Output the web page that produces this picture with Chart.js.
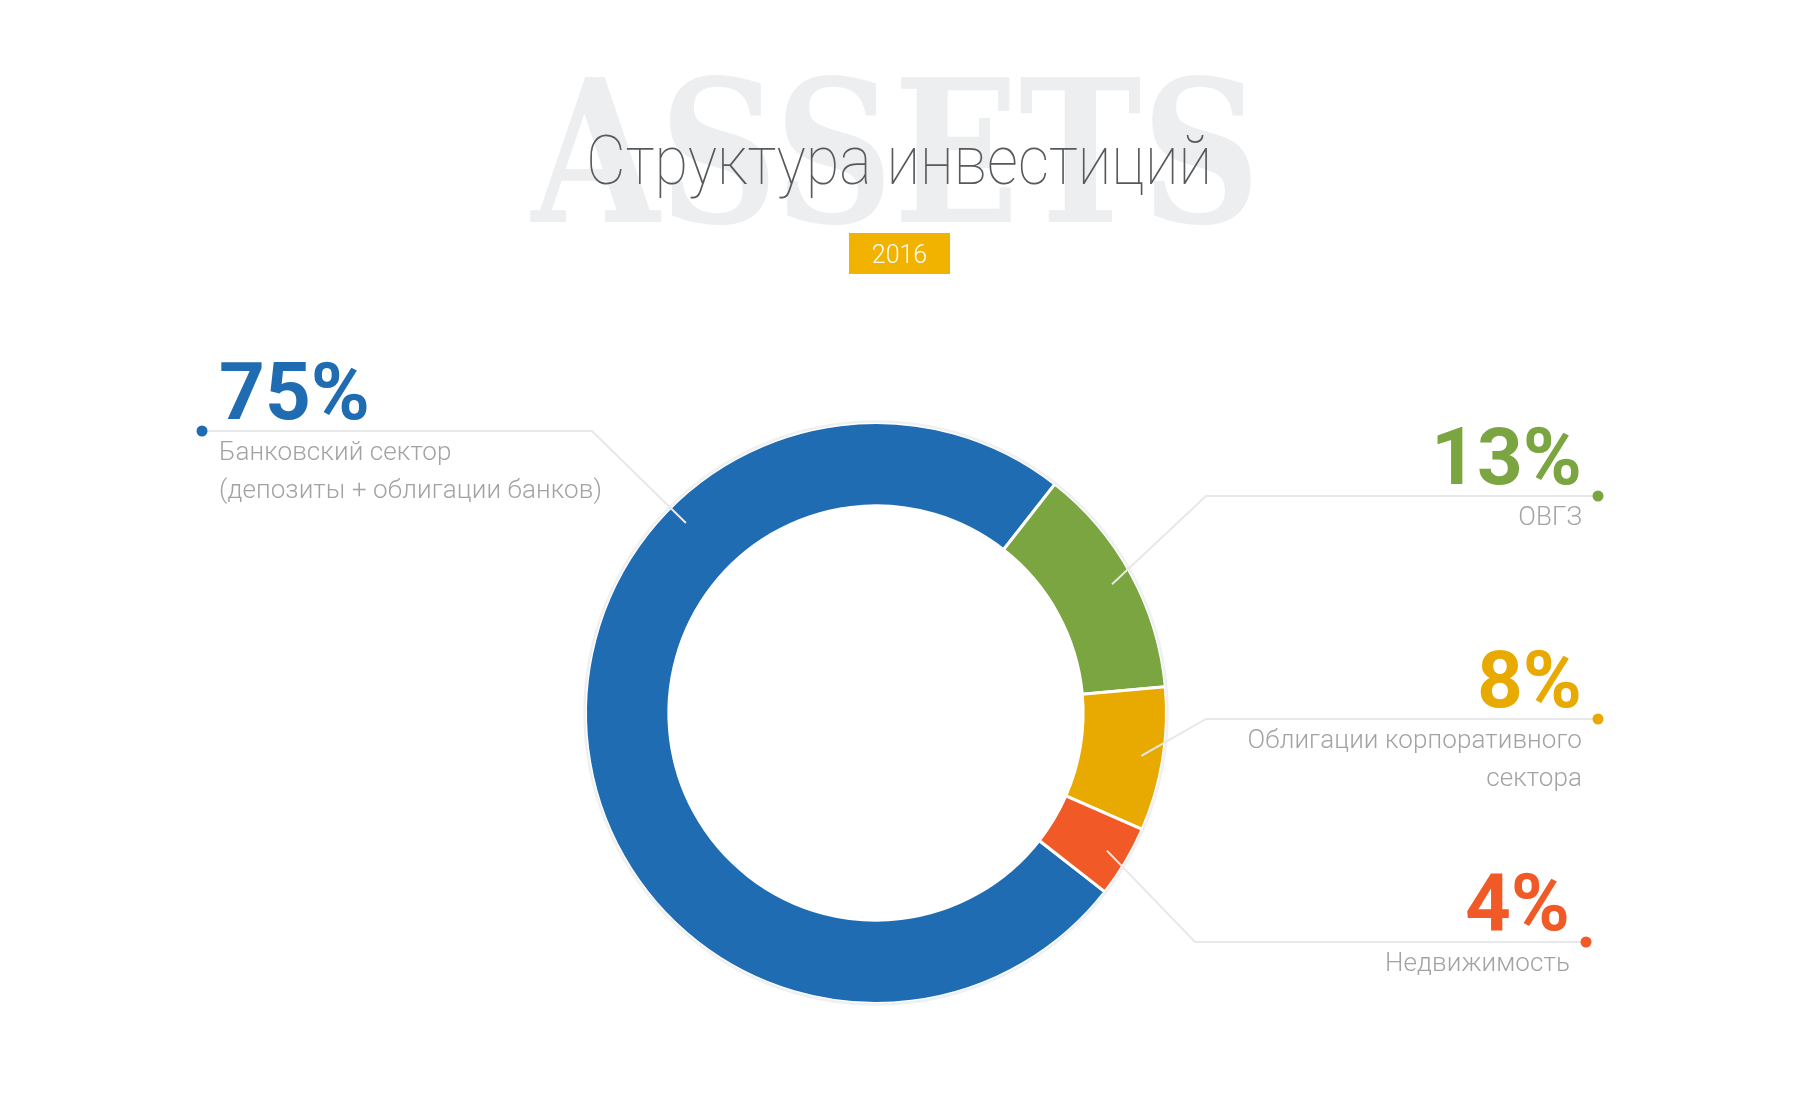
<!DOCTYPE html>
<html>
<head>
<meta charset="utf-8">
<script src="https://cdn.jsdelivr.net/npm/chart.js@4"></script>
<style>
  html, body { margin: 0; padding: 0; background: #fff; overflow: hidden; }
  #wrap { width: 1801px; height: 1113px; position: relative; }
</style>
</head>
<body>
<div id="wrap"><canvas id="chart"></canvas></div>
<script>
// Data
const categories = [
  ['Банковский сектор', '(депозиты + облигации банков)'],
  ['ОВГЗ'],
  ['Облигации корпоративного', 'сектора'],
  ['Недвижимость'],
];
const shares = [75, 13, 8, 4];
const colors = ['#1f6cb2', '#7ba540', '#e8a900', '#f15a27'];
const titleText = 'Структура инвестиций';
const watermarkText = 'ASSETS';
const yearText = '2016';

// Callout layout: dot, elbow, side (null angle = slice middle)
const CALLOUTS = [
  { dot: [202, 431], elbow: [592, 431], align: 'left', angle: -135 },
  { dot: [1598, 496], elbow: [1206, 496], align: 'right', angle: null },
  { dot: [1598, 719], elbow: [1206, 719], align: 'right', angle: null },
  { dot: [1586, 942], elbow: [1195, 942], align: 'right', angle: null },
];

const LINE_COLOR = '#e7e8e9';
const LABEL_COLOR = '#a3a3a3';

// ─── helpers ─────────────────────────────────────────────────────────────────
function drawFitted(ctx, text, cx, baseline, width) {
  ctx.save();
  ctx.textAlign = 'center';
  const w = ctx.measureText(text).width;
  ctx.translate(cx, baseline);
  ctx.scale(width / w, 1);
  ctx.fillText(text, 0, 0);
  ctx.restore();
}

// ─── header: watermark, title, year badge ────────────────────────────────────
const headerPlugin = {
  id: 'header',
  beforeDraw(chart) {
    const ctx = chart.ctx;
    ctx.save();
    ctx.textBaseline = 'alphabetic';

    ctx.fillStyle = '#eceef0';
    ctx.font = 'bold 198px "DejaVu Serif"';
    drawFitted(ctx, watermarkText, 896, 222, 729);

    ctx.fillStyle = '#58595b';
    ctx.font = '100 68px Roboto';
    drawFitted(ctx, titleText, 899, 184, 626);

    ctx.fillStyle = '#f2b200';
    ctx.fillRect(849, 233, 101, 41);
    ctx.fillStyle = '#ffffff';
    ctx.font = '300 25px Roboto';
    ctx.textAlign = 'center';
    ctx.fillText(yearText, 899.5, 263);
    ctx.restore();
  },
};

// ─── callouts: outer ring, leader lines, percentages, labels ─────────────────
const calloutPlugin = {
  id: 'callouts',
  afterDatasetsDraw(chart) {
    const ctx = chart.ctx;
    const arcs = chart.getDatasetMeta(0).data;
    const first = arcs[0];

    ctx.save();
    ctx.strokeStyle = '#eff0f2';
    ctx.lineWidth = 2.5;
    ctx.beginPath();
    ctx.arc(first.x, first.y, first.outerRadius + 1, 0, Math.PI * 2);
    ctx.stroke();

    arcs.forEach((arc, i) => {
      const c = CALLOUTS[i];
      const a = c.angle === null ? (arc.startAngle + arc.endAngle) / 2 : c.angle * Math.PI / 180;
      const r = arc.innerRadius + 0.74 * (arc.outerRadius - arc.innerRadius);
      const ax = arc.x + r * Math.cos(a);
      const ay = arc.y + r * Math.sin(a);

      ctx.strokeStyle = LINE_COLOR;
      ctx.lineWidth = 2;
      ctx.beginPath();
      ctx.moveTo(ax, ay);
      ctx.lineTo(c.elbow[0], c.elbow[1]);
      ctx.lineTo(c.dot[0], c.dot[1]);
      ctx.stroke();

      ctx.fillStyle = colors[i];
      ctx.beginPath();
      ctx.arc(c.dot[0], c.dot[1], 5.5, 0, Math.PI * 2);
      ctx.fill();

      const tx = c.align === 'left' ? c.dot[0] + 17 : c.dot[0] - 16;
      ctx.textAlign = c.align;
      ctx.textBaseline = 'alphabetic';
      ctx.font = 'bold 80px Roboto';
      ctx.fillText(shares[i] + '%', tx, c.dot[1] - 12);

      ctx.fillStyle = LABEL_COLOR;
      ctx.font = '300 26px Roboto';
      ctx.letterSpacing = '0.1px';
      categories[i].forEach((line, j) => {
        ctx.fillText(line, tx, c.dot[1] + 29 + j * 38);
      });
      ctx.letterSpacing = '0px';
    });
    ctx.restore();
  },
};

// ─── chart ───────────────────────────────────────────────────────────────────
new Chart(document.getElementById('chart'), {
  type: 'doughnut',
  data: {
    labels: categories.map(l => l.join(' ')),
    datasets: [{
      data: shares,
      backgroundColor: colors,
      borderColor: '#ffffff',
      borderWidth: 3,
    }],
  },
  options: {
    responsive: true,
    maintainAspectRatio: false,
    animation: false,
    rotation: 128,
    cutout: '71.3%',
    layout: { padding: { left: 584, right: 633, top: 421, bottom: 108 } },
    plugins: { legend: { display: false }, tooltip: { enabled: false } },
  },
  plugins: [headerPlugin, calloutPlugin],
});
</script>
</body>
</html>
